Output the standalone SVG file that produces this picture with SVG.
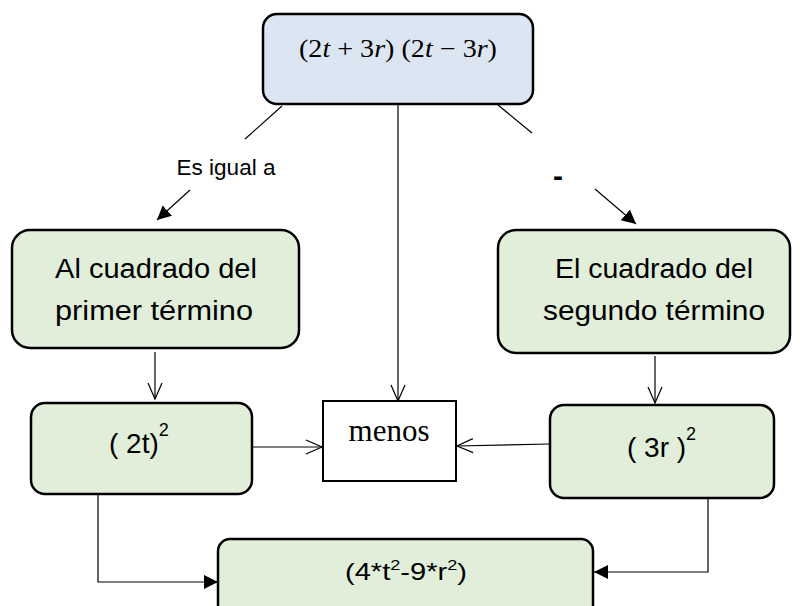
<svg xmlns="http://www.w3.org/2000/svg" width="800" height="606" viewBox="0 0 800 606">
<defs>
<style>
.box{stroke:#000;stroke-width:2.5}
.green{fill:#e1eed9}
.blue{fill:#dce6f2}
.ln{stroke:#000;stroke-width:1.2;fill:none}
.t{font-family:"Liberation Sans",Arial,sans-serif;fill:#000;text-anchor:middle}
.s{font-family:"Liberation Serif","Times New Roman",serif;fill:#000;text-anchor:middle}
</style>
<marker id="open" markerWidth="20" markerHeight="20" refX="17" refY="8" orient="auto" markerUnits="userSpaceOnUse">
<path d="M1,1 L17,8 L1,15" fill="none" stroke="#000" stroke-width="1.2"/>
</marker>
<marker id="fill" markerWidth="16" markerHeight="16" refX="14" refY="7" orient="auto" markerUnits="userSpaceOnUse">
<path d="M0,0 L14,7 L0,14 Z" fill="#000"/>
</marker>
</defs>
<rect width="800" height="606" fill="#fff"/>

<g id="connectors">
<line class="ln" x1="282" y1="106" x2="245" y2="139"/>
<line class="ln" x1="190" y1="190" x2="157" y2="220" marker-end="url(#fill)"/>
<line class="ln" x1="498" y1="105" x2="532" y2="133"/>
<line class="ln" x1="595" y1="189" x2="636" y2="224" marker-end="url(#fill)"/>
<line class="ln" x1="398" y1="104" x2="398" y2="401" marker-end="url(#open)"/>
<line class="ln" x1="155" y1="352" x2="155" y2="399" marker-end="url(#open)"/>
<line class="ln" x1="655" y1="356" x2="655" y2="403" marker-end="url(#open)"/>
<line class="ln" x1="252" y1="447" x2="322" y2="447" marker-end="url(#open)"/>
<line class="ln" x1="550" y1="444" x2="457" y2="446" marker-end="url(#open)"/>
<polyline class="ln" points="98,494 98,582 218,582" marker-end="url(#fill)"/>
<polyline class="ln" points="708,498 708,572 594,572" marker-end="url(#fill)"/>
<text class="t" x="226" y="175" font-size="22" textLength="99" lengthAdjust="spacingAndGlyphs">Es igual a</text>
<text class="t" x="558" y="186" font-size="30" font-weight="bold">-</text>
</g>

<g id="top">
<rect class="box blue" x="263" y="14" width="270" height="90" rx="14"/>
<text class="s" x="398" y="57" font-size="25" textLength="198" lengthAdjust="spacingAndGlyphs"><tspan>(2</tspan><tspan font-style="italic">t</tspan><tspan> + 3</tspan><tspan font-style="italic">r</tspan><tspan>) (2</tspan><tspan font-style="italic">t</tspan><tspan> − 3</tspan><tspan font-style="italic">r</tspan><tspan>)</tspan></text>
</g>

<g id="primer">
<rect class="box green" x="12" y="230" width="287" height="118" rx="18"/>
<text class="t" x="156" y="278" font-size="27" textLength="202" lengthAdjust="spacingAndGlyphs">Al cuadrado del</text>
<text class="t" x="154" y="320" font-size="27" textLength="198" lengthAdjust="spacingAndGlyphs">primer término</text>
</g>

<g id="segundo">
<rect class="box green" x="498" y="230" width="292" height="123" rx="18"/>
<text class="t" x="654" y="278" font-size="27" textLength="198" lengthAdjust="spacingAndGlyphs">El cuadrado del</text>
<text class="t" x="654" y="320" font-size="27" textLength="222" lengthAdjust="spacingAndGlyphs">segundo término</text>
</g>

<g id="menos">
<rect x="323" y="401" width="133" height="80" fill="#fff" stroke="#000" stroke-width="2"/>
<text class="s" x="389" y="441" font-size="31">menos</text>
</g>

<g id="dos_t">
<rect class="box green" x="31" y="403" width="221" height="91" rx="14"/>
<text x="109" y="453" font-family="Liberation Sans, Arial, sans-serif" font-size="28">( 2t)<tspan dy="-17" font-size="18">2</tspan></text>
</g>

<g id="tres_r">
<rect class="box green" x="550" y="405" width="224" height="93" rx="14"/>
<text x="627" y="457" font-family="Liberation Sans, Arial, sans-serif" font-size="28">( 3r )<tspan dy="-17" font-size="18">2</tspan></text>
</g>

<g id="resultado">
<rect class="box green" x="218" y="539" width="375" height="80" rx="12"/>
<text x="345" y="580" font-family="Liberation Sans, Arial, sans-serif" font-size="24" textLength="122" lengthAdjust="spacingAndGlyphs">(4*t<tspan dy="-10" font-size="15">2</tspan><tspan dy="10">-9*r</tspan><tspan dy="-10" font-size="15">2</tspan><tspan dy="10">)</tspan></text>
</g>
</svg>
